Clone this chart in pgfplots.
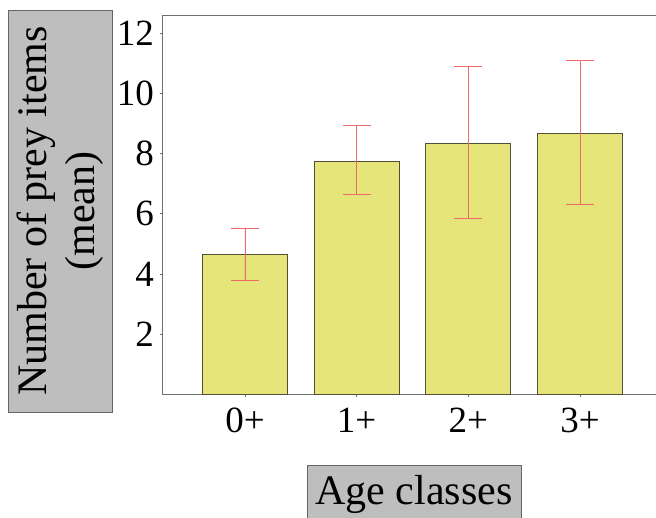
\documentclass[border=0pt]{standalone}
\usepackage{fontspec}
\setmainfont{Liberation Serif}
\usepackage{pgfplots}
\usepackage{pgfplotstable}
\pgfplotsset{compat=1.18}
\definecolor{barfill}{RGB}{229,229,122}
\definecolor{baredge}{RGB}{80,80,55}
\definecolor{errred}{RGB}{238,105,105}
\definecolor{boxgray}{RGB}{190,190,190}
\definecolor{axgray}{RGB}{110,110,110}
\pgfplotstableread{
x y ep em
0 4.66 0.85 0.86
1 7.73 1.20 1.10
2 8.35 2.54 2.50
3 8.68 2.40 2.38
}\prey
\begin{document}
\begin{tikzpicture}
\begin{axis}[
  scale only axis,
  width=493pt, height=378.5pt,
  xmin=-0.734, xmax=3.68,
  ymin=0, ymax=12.57,
  xtick={0,1,2,3},
  xticklabels={0+,1+,2+,3+},
  ytick={2,4,6,8,10,12},
  tick pos=left,
  tick align=outside,
  major tick length=3pt,
  tick style={axgray, line width=0.8pt},
  axis line style={axgray, line width=1pt},
  /pgf/number format/assume math mode=true,
  ticklabel style={font=\fontsize{37}{42}\selectfont},
  xticklabel style={inner sep=0pt, yshift=-10pt},
  yticklabel style={inner sep=0pt, xshift=-6pt},
  xlabel={Age classes},
  ylabel={Number of prey items\\(mean)},
  xlabel style={at={(axis description cs:0.509,-0.263)}, anchor=center,
    draw=black!60, fill=boxgray, line width=0.8pt, minimum width=214pt, minimum height=58pt,
    inner sep=0pt, font=\fontsize{42}{48}\selectfont},
  ylabel style={at={(axis description cs:-0.2089,0.4848)}, anchor=center, rotate=0,
    draw=black!60, fill=boxgray, line width=0.8pt, minimum width=402pt, minimum height=104pt,
    inner sep=0pt, align=center, font=\fontsize{42}{48}\selectfont},
]
\addplot[ybar, bar width=0.76, fill=barfill, draw=baredge, line width=0.9pt,
  error bars/.cd, y dir=both, y explicit,
  error bar style={errred, line width=0.8pt},
  error mark options={errred, line width=0.8pt, rotate=90, mark size=14pt}]
  table[x=x, y=y, y error plus=ep, y error minus=em] {\prey};
\end{axis}
\pgfresetboundingbox
\path[use as bounding box] (-163pt,-123.5pt) rectangle (493pt,394.5pt);
\end{tikzpicture}
\end{document}
